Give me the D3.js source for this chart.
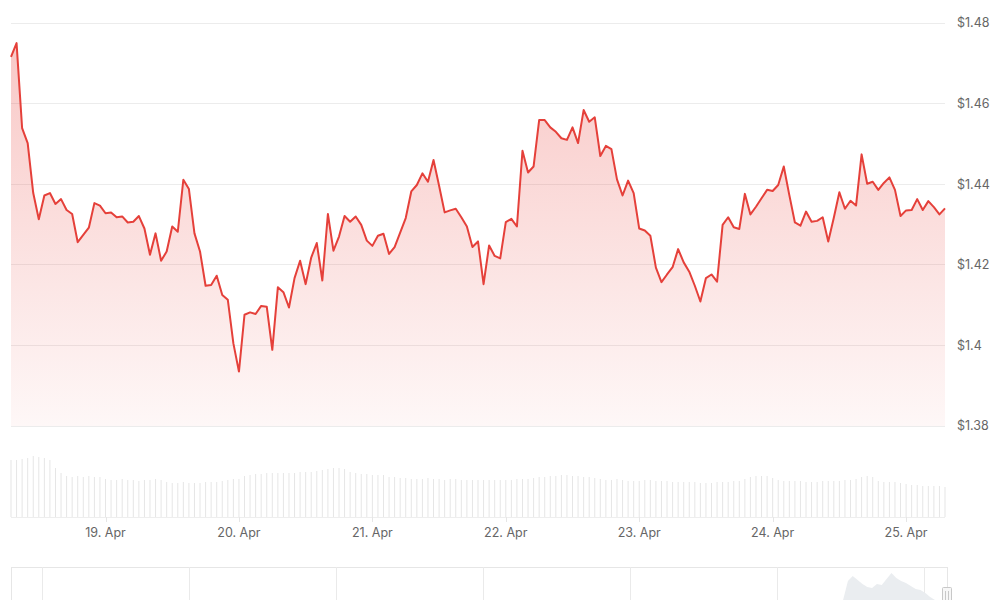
<!DOCTYPE html>
<html><head><meta charset="utf-8">
<script src="https://cdn.jsdelivr.net/npm/d3@7"></script>
<style>html,body{margin:0;padding:0;background:#fff;overflow:hidden} svg{display:block;font-family:Inter,"Noto Sans",sans-serif}</style>
</head><body><svg id="c" width="1000" height="600"></svg>
<script>
// ---------- data ----------
const startTime = "2024-04-18T07:00:00Z"; // hourly points
const prices = [
1.4716,1.4750,1.4539,1.4502,1.4378,1.4313,1.4372,1.4378,1.4351,1.4363,
1.4336,1.4326,1.4256,1.4274,1.4292,1.4353,1.4347,1.4328,1.4330,1.4318,
1.4320,1.4305,1.4307,1.4321,1.4290,1.4225,1.4278,1.4210,1.4233,1.4295,
1.4282,1.4411,1.4388,1.4278,1.4233,1.4148,1.4150,1.4173,1.4125,1.4113,
1.4005,1.3935,1.4076,1.4082,1.4078,1.4098,1.4096,1.3989,1.4144,1.4132,
1.4094,1.4167,1.4210,1.4152,1.4218,1.4254,1.4161,1.4326,1.4235,1.4270,
1.4321,1.4307,1.4320,1.4299,1.4260,1.4247,1.4272,1.4277,1.4227,1.4244,
1.4280,1.4316,1.4382,1.4398,1.4427,1.4406,1.4460,1.4396,1.4330,1.4335,
1.4339,1.4318,1.4295,1.4244,1.4258,1.4152,1.4248,1.4222,1.4216,1.4306,
1.4314,1.4295,1.4483,1.4429,1.4444,1.4559,1.4559,1.4541,1.4530,1.4514,
1.4510,1.4541,1.4502,1.4584,1.4555,1.4566,1.4470,1.4495,1.4487,1.4412,
1.4372,1.4409,1.4378,1.4290,1.4285,1.4272,1.4193,1.4157,1.4176,1.4194,
1.4239,1.4206,1.4183,1.4148,1.4109,1.4167,1.4176,1.4158,1.4299,1.4318,
1.4293,1.4289,1.4376,1.4325,1.4344,1.4365,1.4386,1.4383,1.4398,1.4444,
1.4373,1.4305,1.4297,1.4332,1.4307,1.4309,1.4318,1.4258,1.4317,1.4380,
1.4339,1.4359,1.4347,1.4474,1.4401,1.4406,1.4386,1.4403,1.4417,1.4386,
1.4321,1.4335,1.4336,1.4363,1.4336,1.4358,1.4343,1.4325,1.4340
];
const volumes = [
57,57,58,59,61,60,59,57,49,44,
41,40,41,40,41,40,40,
38,37,37,38,37,37,36,37,37,38,37,
35,34,34,35,34,34,34,35,35,35,36,
37,38,38,
41,42,43,43,44,44,44,44,44,44,45,45,45,46,
47,48,49,49,48,
45,44,43,43,42,42,42,
40,40,39,39,38,38,38,39,38,38,37,38,38,37,37,
37,37,37,37,37,37,37,37,38,38,38,
39,40,40,41,41,42,42,41,41,40,40,39,
38,37,37,38,37,36,36,36,37,37,36,
36,36,35,35,35,35,35,34,34,34,35,35,35,36,36,
38,40,41,41,41,39,
37,36,36,36,36,35,35,35,36,36,36,36,37,37,38,
40,41,40,
36,35,35,35,34,
33,32,32,31,31,31,31,30
];
const yTicks = [1.38, 1.40, 1.42, 1.44, 1.46, 1.48];
const xTickDates = ["2024-04-19","2024-04-20","2024-04-21","2024-04-22","2024-04-23","2024-04-24","2024-04-25"];
// navigator (overview) series
const navDomain = ["2024-01-27T01:09:00Z", "2024-04-25T04:30:00Z"];
const navGridDates = ["2024-01-30","2024-02-13","2024-02-27","2024-03-12","2024-03-26","2024-04-09","2024-04-23"];
const navStart = "2024-04-15T07:00:00Z", navEnd = "2024-04-24T01:00:00Z";
const navValues = [4,23,28,24,20,17,16,20,19,25,31,26,23,21,18,15,14,11,7,4];

// ---------- layout ----------
const svg = d3.select("#c");
const L = 11, R = 945, T = 23, B = 426;
const volTop = 447, volBase = 517;
const t0 = new Date(startTime);
const times = prices.map((_, i) => d3.utcHour.offset(t0, i));
const x = d3.scaleUtc().domain([times[0], times[times.length - 1]]).range([L, R]);
const y = d3.scaleLinear().domain([1.38, 1.48]).range([B, T]);
const yv = d3.scaleLinear().domain([0, 70]).range([volBase, volTop]);

const defs = svg.append("defs");
const grad = defs.append("linearGradient").attr("id", "ag")
  .attr("gradientUnits", "userSpaceOnUse").attr("x1", 0).attr("x2", 0).attr("y1", T).attr("y2", B);
grad.append("stop").attr("offset", 0).attr("stop-color", "#e8403a").attr("stop-opacity", 0.30);
grad.append("stop").attr("offset", 1).attr("stop-color", "#e8403a").attr("stop-opacity", 0.04);

// grid
svg.append("g").selectAll("line").data(yTicks).join("line")
  .attr("x1", L).attr("x2", R).attr("y1", d => y(d)).attr("y2", d => y(d))
  .attr("stroke", "#ececec").attr("stroke-width", 1).attr("shape-rendering", "crispEdges");

// y labels
svg.append("g").selectAll("text").data(yTicks).join("text")
  .attr("x", 957).attr("y", d => y(d)).attr("dy", "0.35em")
  .attr("fill", "#666").attr("font-size", 12.5)
  .text(d => "$" + (+d.toFixed(2)));

// area + line
const pts = prices.map((p, i) => [times[i], p]);
svg.append("path").datum(pts)
  .attr("d", d3.area().x(d => x(d[0])).y0(B).y1(d => y(d[1])))
  .attr("fill", "url(#ag)");
svg.append("path").datum(pts)
  .attr("d", d3.line().x(d => x(d[0])).y(d => y(d[1])))
  .attr("fill", "none").attr("stroke", "#e5403a").attr("stroke-width", 2).attr("stroke-linejoin", "round");

// volume
svg.append("g").selectAll("rect").data(volumes).join("rect")
  .attr("x", (d, i) => x(times[i]) - 0.5).attr("width", 1)
  .attr("y", d => yv(d)).attr("height", d => volBase - yv(d))
  .attr("fill", "#e6e6e6");

// x axis
svg.append("line").attr("x1", L).attr("x2", R).attr("y1", volBase + 0.5).attr("y2", volBase + 0.5)
  .attr("stroke", "#eeeeee");
const xt = xTickDates.map(s => new Date(s + "T00:00:00Z"));
const fmt = d3.utcFormat("%-d. %b");
svg.append("g").selectAll("line").data(xt).join("line")
  .attr("x1", d => Math.round(x(d)) + 0.5).attr("x2", d => Math.round(x(d)) + 0.5)
  .attr("y1", volBase).attr("y2", volBase + 5).attr("stroke", "#e6e6e6");
svg.append("g").selectAll("text").data(xt).join("text")
  .attr("x", d => x(d)).attr("y", 533).attr("dy", "0.35em").attr("text-anchor", "middle")
  .attr("fill", "#666").attr("font-size", 12.5).text(fmt);

// navigator
const nx = d3.scaleUtc().domain(navDomain.map(s => new Date(s))).range([L, 947]);
const navTop = 567, navBot = 612;
svg.append("rect").attr("x", L + 0.5).attr("y", navTop + 0.5).attr("width", 947 - L).attr("height", navBot - navTop)
  .attr("fill", "none").attr("stroke", "#e6e6e6");
svg.append("g").selectAll("line").data(navGridDates.map(s => new Date(s + "T00:00:00Z"))).join("line")
  .attr("x1", d => Math.round(nx(d)) + 0.5).attr("x2", d => Math.round(nx(d)) + 0.5)
  .attr("y1", navTop).attr("y2", navBot).attr("stroke", "#eaeaea");
const navX = d3.scaleLinear().domain([0, navValues.length - 1]).range([nx(new Date(navStart)), nx(new Date(navEnd))]);
const ny = d3.scaleLinear().domain([0, 40]).range([604, 564]);
svg.append("path").datum(navValues)
  .attr("d", d3.area().x((d, i) => navX(i)).y0(navBot).y1(d => ny(d)))
  .attr("fill", "#eaedf0");
// handle
svg.append("rect").attr("x", 942.5).attr("y", 587.5).attr("width", 9).attr("height", 16)
  .attr("fill", "#f7f7f7").attr("stroke", "#c8c8c8").attr("rx", 1);
svg.append("g").selectAll("line").data([945.5, 948.5]).join("line")
  .attr("x1", d => d).attr("x2", d => d).attr("y1", 591).attr("y2", 600).attr("stroke", "#c8c8c8");
</script></body></html>
